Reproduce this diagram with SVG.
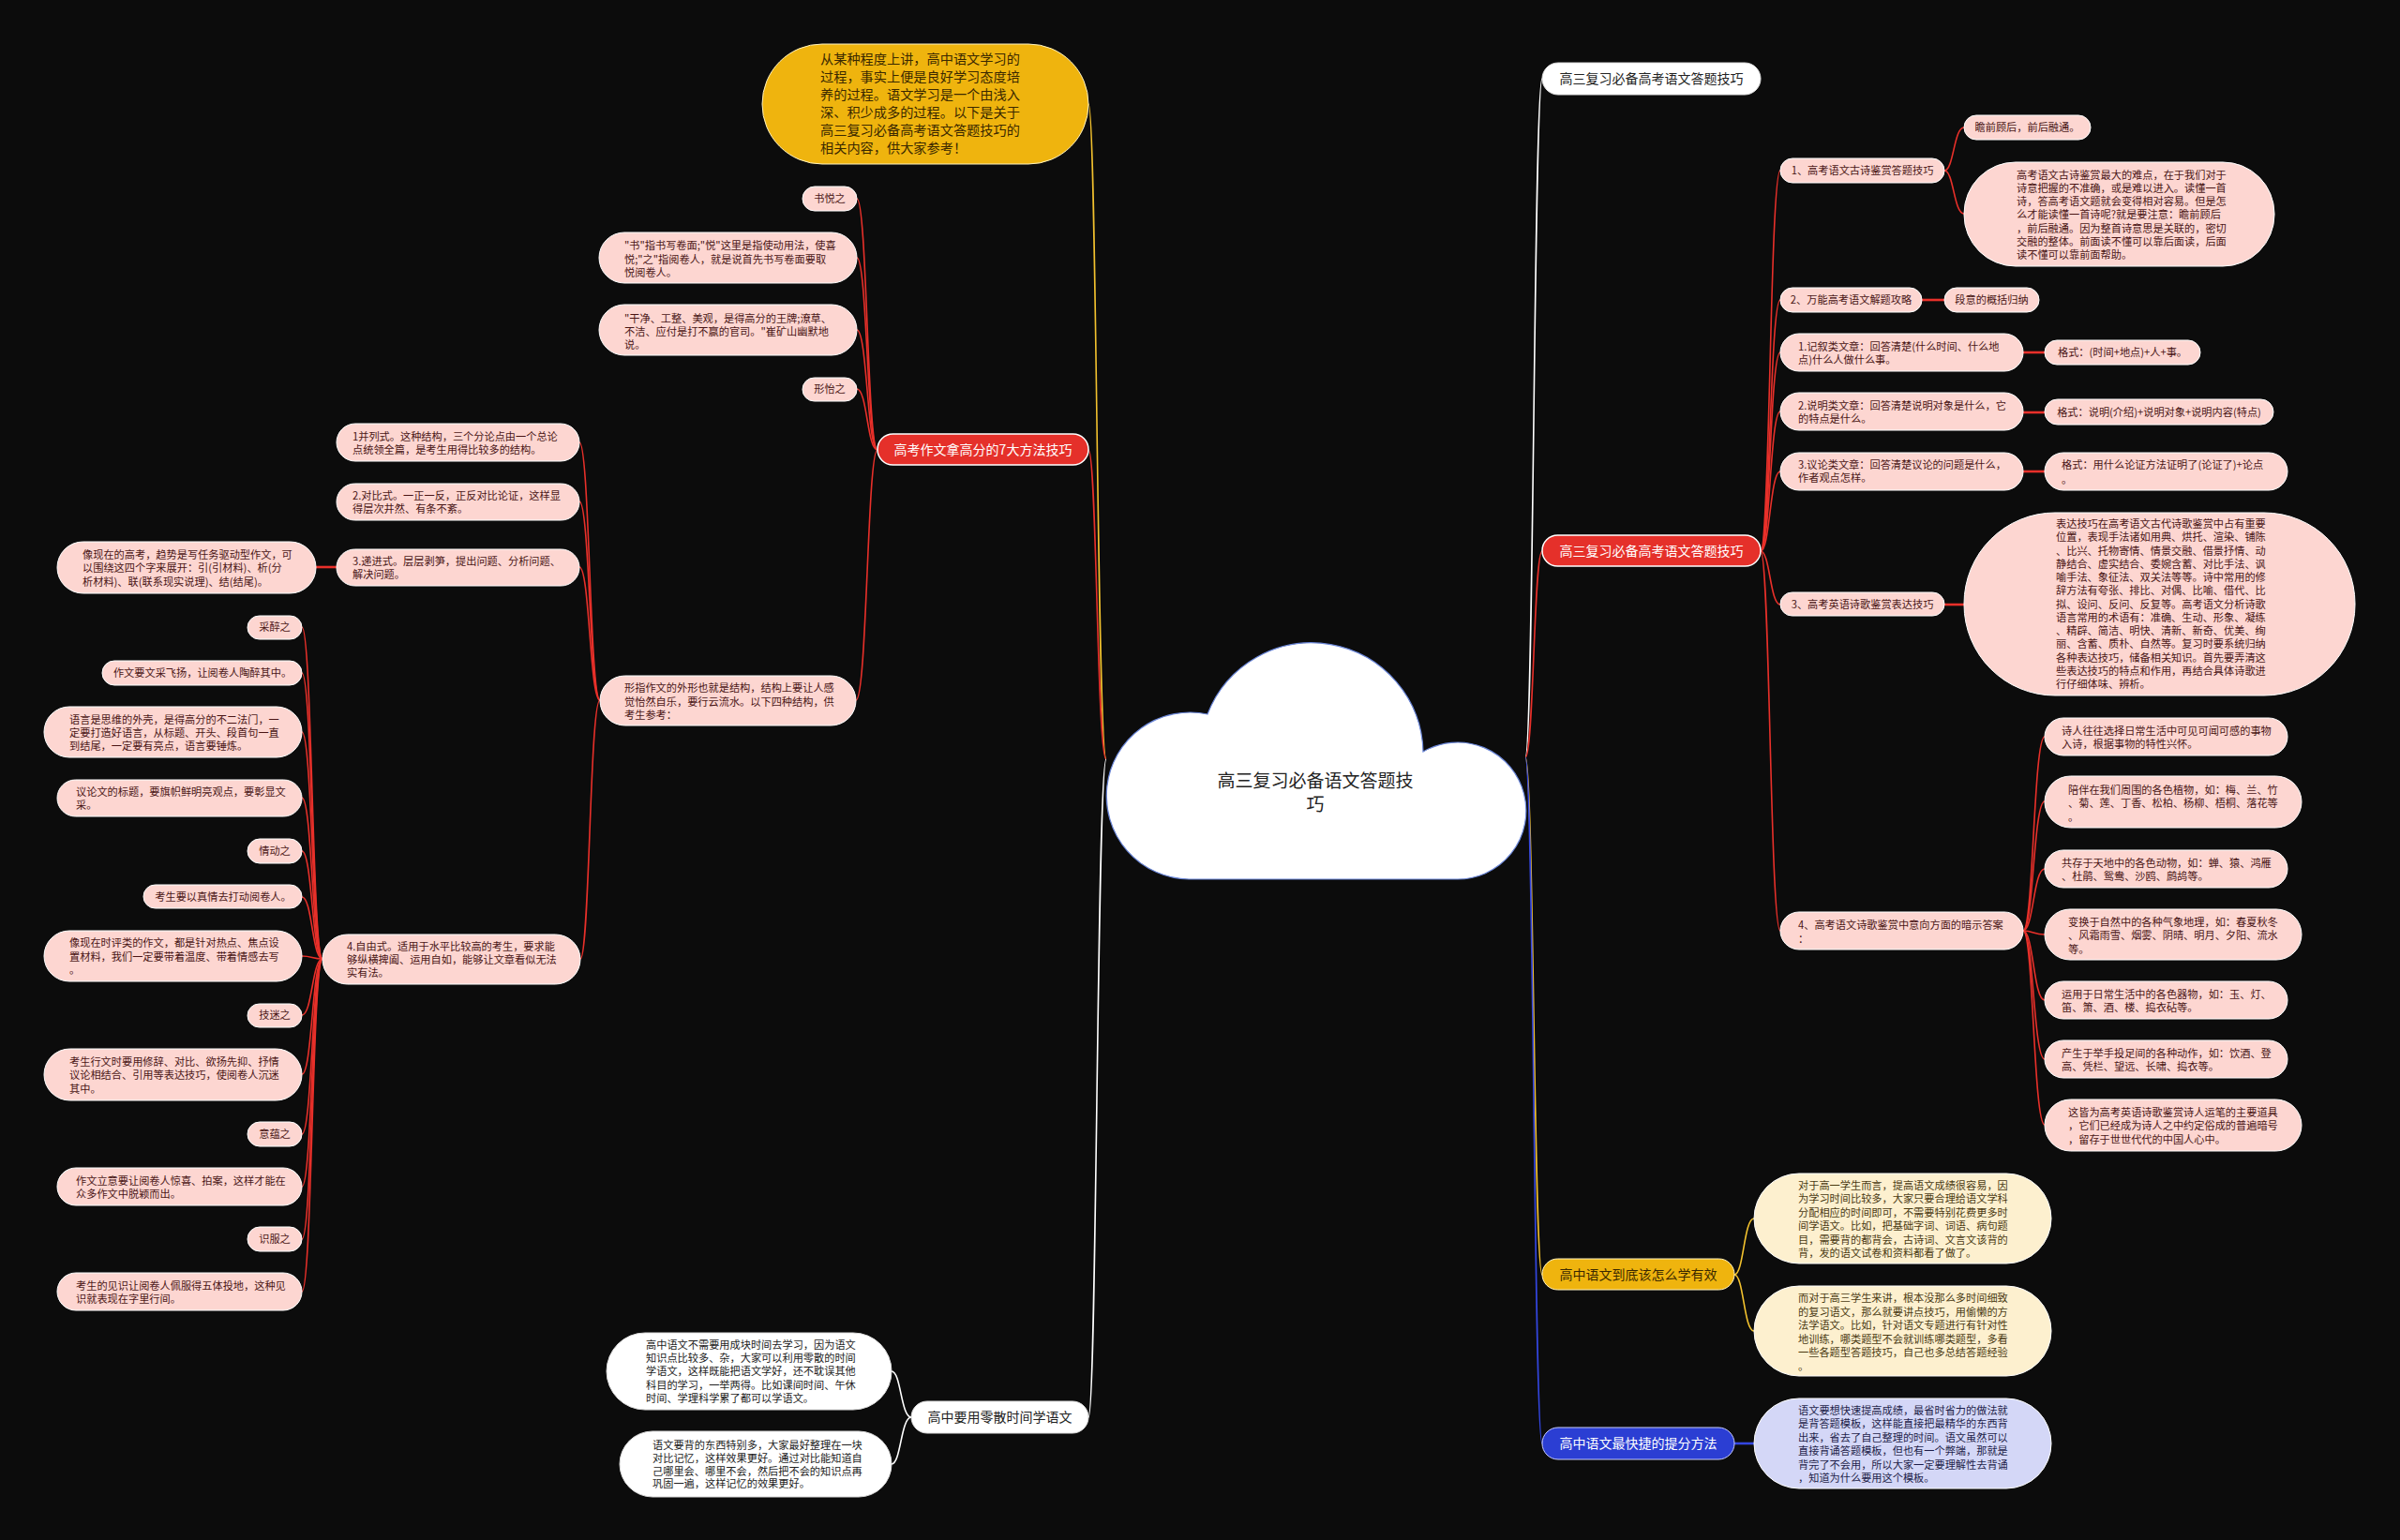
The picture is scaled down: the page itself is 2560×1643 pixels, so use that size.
<svg xmlns="http://www.w3.org/2000/svg" width="2560" height="1643" viewBox="0 0 2560 1643">
<defs><style>
text{font-family:"Noto Sans CJK SC","Microsoft YaHei","Liberation Sans",sans-serif}
.leaf{fill:#fdd6d1;stroke:#ffffff;stroke-width:1}
.lt{font-size:11.2px;fill:#4a1515}
.redn{fill:#e5302a;stroke:#ffffff;stroke-width:1.5}
.wt{font-size:14px;fill:#ffffff}
.whn{fill:#ffffff;stroke:#dddddd;stroke-width:1}
.dt{font-size:14px;fill:#222222}
.gold{fill:#efb40e;stroke:#fff3c0;stroke-width:1}
.gt{font-size:14px;fill:#3a2800}
.blue{fill:#2b3ed3;stroke:#c8ccff;stroke-width:1}
.cream{fill:#fdf0cf;stroke:#ffffff;stroke-width:1}
.ct{font-size:11.2px;fill:#4a3a12}
.lav{fill:#d4d7f7;stroke:#ffffff;stroke-width:1}
.bt{font-size:11.2px;fill:#1e1e4a}
.wl{fill:#ffffff;stroke:#dddddd;stroke-width:1}
.wlt{font-size:11.2px;fill:#222222}
.c{fill:none;stroke-width:1.6}
.cr{stroke:#e8302a}
.cy{stroke:#f2c12e}
.cw{stroke:#ffffff}
.cb{stroke:#3346e0}
.thick{stroke-width:2.6}
.mid{text-anchor:middle}
</style></defs>
<rect width="2560" height="1643" fill="#0c0c0c"/>
<g id="connectors">
<path class="c cy" stroke-width="2" d="M1180,810 C1170,810 1170,111 1161,111"/>
<path class="c cr" stroke-width="2" d="M1180,810 C1170,810 1170,480 1161,480"/>
<path class="c cw" stroke-width="2" d="M1180,810 C1170,810 1170,1512 1161,1512"/>
<path class="c cw" stroke-width="2" d="M1627,808 C1636,808 1636,84 1645,84"/>
<path class="c cr" stroke-width="2" d="M1627,808 C1636,808 1636,588 1645,588"/>
<path class="c cy" stroke-width="2" d="M1627,808 C1636,808 1636,1360 1645,1360"/>
<path class="c cb" stroke-width="2" d="M1627,808 C1636,808 1636,1540 1645,1540"/>
<path class="c cr" d="M936,480 C925,480 925,212 914,212"/>
<path class="c cr" d="M936,480 C925,480 925,275 914,275"/>
<path class="c cr" d="M936,480 C925,480 925,352 914,352"/>
<path class="c cr" d="M936,480 C925,480 925,415 914,415"/>
<path class="c cr" d="M936,480 C925,480 925,747 913,747"/>
<path class="c cr" d="M640,747 C629,747 629,472 618,472"/>
<path class="c cr" d="M640,747 C629,747 629,535 618,535"/>
<path class="c cr" d="M640,747 C629,747 629,605 618,605"/>
<path class="c cr" d="M640,747 C629,747 629,1023 619,1023"/>
<path class="c cr thick" d="M359,605 L337,605"/>
<path class="c cr" d="M344,1023 C333,1023 333,669 322,669"/>
<path class="c cr" d="M344,1023 C333,1023 333,718 322,718"/>
<path class="c cr" d="M344,1023 C333,1023 333,781 322,781"/>
<path class="c cr" d="M344,1023 C333,1023 333,851 322,851"/>
<path class="c cr" d="M344,1023 C333,1023 333,908 322,908"/>
<path class="c cr" d="M344,1023 C333,1023 333,957 322,957"/>
<path class="c cr" d="M344,1023 C333,1023 333,1020 322,1020"/>
<path class="c cr" d="M344,1023 C333,1023 333,1083 322,1083"/>
<path class="c cr" d="M344,1023 C333,1023 333,1146 322,1146"/>
<path class="c cr" d="M344,1023 C333,1023 333,1210 322,1210"/>
<path class="c cr" d="M344,1023 C333,1023 333,1266 322,1266"/>
<path class="c cr" d="M344,1023 C333,1023 333,1322 322,1322"/>
<path class="c cr" d="M344,1023 C333,1023 333,1378 322,1378"/>
<path class="c cw" d="M972,1512 C961,1512 961,1463 951,1463"/>
<path class="c cw" d="M972,1512 C961,1512 961,1562 951,1562"/>
<path class="c cr" d="M1878,588 C1888,588 1888,182 1899,182"/>
<path class="c cr" d="M1878,588 C1888,588 1888,320 1899,320"/>
<path class="c cr" d="M1878,588 C1888,588 1888,376 1899,376"/>
<path class="c cr" d="M1878,588 C1888,588 1888,439 1899,439"/>
<path class="c cr" d="M1878,588 C1888,588 1888,503 1899,503"/>
<path class="c cr" d="M1878,588 C1888,588 1888,645 1899,645"/>
<path class="c cr" d="M1878,588 C1888,588 1888,993 1899,993"/>
<path class="c cr" d="M2074,182 C2084,182 2084,136 2095,136"/>
<path class="c cr" d="M2074,182 C2084,182 2084,228 2095,228"/>
<path class="c cr thick" d="M2050,320 L2074,320"/>
<path class="c cr thick" d="M2158,376 L2181,376"/>
<path class="c cr thick" d="M2158,440 L2181,440"/>
<path class="c cr thick" d="M2158,503 L2181,503"/>
<path class="c cr thick" d="M2074,645 L2095,645"/>
<path class="c cr" d="M2158,993 C2169,993 2169,786 2181,786"/>
<path class="c cr" d="M2158,993 C2169,993 2169,855 2181,855"/>
<path class="c cr" d="M2158,993 C2169,993 2169,927 2181,927"/>
<path class="c cr" d="M2158,993 C2169,993 2169,997 2181,997"/>
<path class="c cr" d="M2158,993 C2169,993 2169,1067 2181,1067"/>
<path class="c cr" d="M2158,993 C2169,993 2169,1130 2181,1130"/>
<path class="c cr" d="M2158,993 C2169,993 2169,1200 2181,1200"/>
<path class="c cy" d="M1850,1360 C1860,1360 1860,1300 1871,1300"/>
<path class="c cy" d="M1850,1360 C1860,1360 1860,1420 1871,1420"/>
<path class="c cb thick" d="M1850,1540 L1871,1540"/>
</g>
<g id="root">
<path d="M1268,938 A89,89 0 1 1 1288,762 A119,119 0 0 1 1518,802 A73,73 0 1 1 1553,938 Z" fill="#ffffff" stroke="#6a86d8" stroke-width="1.2"/>
<text class="mid" font-size="19" fill="#222222"><tspan x="1403" y="840">高三复习必备语文答题技</tspan><tspan x="1403" y="865">巧</tspan></text>
</g>
<g id="intro">
<rect x="813" y="47" width="348" height="128" rx="64" class="gold"/>
<text font-size="14.2" fill="#3a2800"><tspan x="875" y="68">从某种程度上讲，高中语文学习的</tspan><tspan x="875" y="87">过程，事实上便是良好学习态度培</tspan><tspan x="875" y="106">养的过程。语文学习是一个由浅入</tspan><tspan x="875" y="125">深、积少成多的过程。以下是关于</tspan><tspan x="875" y="144">高三复习必备高考语文答题技巧的</tspan><tspan x="875" y="163">相关内容，供大家参考！</tspan></text>
</g>
<g id="n-zuowen">
<rect x="936" y="463" width="225" height="33" rx="16.5" class="redn"/>
<text class="wt mid" x="1048.5" y="485">高考作文拿高分的7大方法技巧</text>
</g>
<g id="n-shuyue"><rect x="856" y="199" width="58" height="26" rx="13" class="leaf"/><text class="lt mid" x="885" y="216">书悦之</text></g>
<g id="n-shuyue-d"><rect x="639" y="248" width="275" height="54" rx="27" class="leaf"/><text class="lt"><tspan x="666" y="266">"书"指书写卷面;"悦"这里是指使动用法，使喜</tspan><tspan x="666" y="281">悦;"之"指阅卷人，就是说首先书写卷面要取</tspan><tspan x="666" y="295">悦阅卷人。</tspan></text></g>
<g id="n-ganjing"><rect x="639" y="325" width="275" height="54" rx="27" class="leaf"/><text class="lt"><tspan x="666" y="344">"干净、工整、美观，是得高分的王牌;潦草、</tspan><tspan x="666" y="358">不洁、应付是打不赢的官司。"崔矿山幽默地</tspan><tspan x="666" y="372">说。</tspan></text></g>
<g id="n-xingyi"><rect x="856" y="403" width="58" height="25" rx="12.5" class="leaf"/><text class="lt mid" x="885" y="419">形怡之</text></g>
<g id="n-xingzhi"><rect x="640" y="721" width="273" height="53" rx="26.5" class="leaf"/><text class="lt"><tspan x="666" y="738">形指作文的外形也就是结构，结构上要让人感</tspan><tspan x="666" y="753">觉怡然自乐，要行云流水。以下四种结构，供</tspan><tspan x="666" y="767">考生参考：</tspan></text></g>
<g id="n-s1"><rect x="359" y="452" width="259" height="40" rx="20" class="leaf"/><text class="lt"><tspan x="376" y="470">1并列式。这种结构，三个分论点由一个总论</tspan><tspan x="376" y="484">点统领全篇，是考生用得比较多的结构。</tspan></text></g>
<g id="n-s2"><rect x="359" y="516" width="259" height="39" rx="19.5" class="leaf"/><text class="lt"><tspan x="376" y="533">2.对比式。一正一反，正反对比论证，这样显</tspan><tspan x="376" y="547">得层次井然、有条不紊。</tspan></text></g>
<g id="n-s3"><rect x="359" y="586" width="259" height="39" rx="19.5" class="leaf"/><text class="lt"><tspan x="376" y="603">3.递进式。层层剥笋，提出问题、分析问题、</tspan><tspan x="376" y="617">解决问题。</tspan></text></g>
<g id="n-s3d"><rect x="61" y="578" width="276" height="55" rx="27.5" class="leaf"/><text class="lt"><tspan x="88" y="596">像现在的高考，趋势是写任务驱动型作文，可</tspan><tspan x="88" y="610">以围绕这四个字来展开：引(引材料)、析(分</tspan><tspan x="88" y="625">析材料)、联(联系现实说理)、结(结尾)。</tspan></text></g>
<g id="n-s4"><rect x="344" y="997" width="275" height="53" rx="26.5" class="leaf"/><text class="lt"><tspan x="370" y="1014">4.自由式。适用于水平比较高的考生，要求能</tspan><tspan x="370" y="1028">够纵横捭阖、运用自如，能够让文章看似无法</tspan><tspan x="370" y="1042">实有法。</tspan></text></g>
<g id="n-caizui"><rect x="264" y="657" width="58" height="25" rx="12.5" class="leaf"/><text class="lt mid" x="293" y="673">采醉之</text></g>
<g id="n-caizui-d"><rect x="109" y="705" width="213" height="26" rx="13" class="leaf"/><text class="lt mid" x="216" y="722">作文要文采飞扬，让阅卷人陶醉其中。</text></g>
<g id="n-yuyan"><rect x="47" y="754" width="275" height="54" rx="27" class="leaf"/><text class="lt"><tspan x="74" y="772">语言是思维的外壳，是得高分的不二法门，一</tspan><tspan x="74" y="786">定要打造好语言，从标题、开头、段首句一直</tspan><tspan x="74" y="800">到结尾，一定要有亮点，语言要锤炼。</tspan></text></g>
<g id="n-biaoti"><rect x="61" y="832" width="261" height="39" rx="19.5" class="leaf"/><text class="lt"><tspan x="81" y="849">议论文的标题，要旗帜鲜明亮观点，要彰显文</tspan><tspan x="81" y="863">采。</tspan></text></g>
<g id="n-qingdong"><rect x="264" y="895" width="58" height="26" rx="13" class="leaf"/><text class="lt mid" x="293" y="912">情动之</text></g>
<g id="n-qingdong-d"><rect x="153" y="944" width="169" height="25" rx="12.5" class="leaf"/><text class="lt mid" x="238" y="961">考生要以真情去打动阅卷人。</text></g>
<g id="n-shiping"><rect x="47" y="993" width="275" height="54" rx="27" class="leaf"/><text class="lt"><tspan x="74" y="1010">像现在时评类的作文，都是针对热点、焦点设</tspan><tspan x="74" y="1025">置材料，我们一定要带着温度、带着情感去写</tspan><tspan x="74" y="1039">。</tspan></text></g>
<g id="n-jimi"><rect x="264" y="1071" width="58" height="25" rx="12.5" class="leaf"/><text class="lt mid" x="293" y="1087">技迷之</text></g>
<g id="n-jimi-d"><rect x="47" y="1119" width="275" height="55" rx="27.5" class="leaf"/><text class="lt"><tspan x="74" y="1137">考生行文时要用修辞、对比、欲扬先抑、抒情</tspan><tspan x="74" y="1151">议论相结合、引用等表达技巧，使阅卷人沉迷</tspan><tspan x="74" y="1166">其中。</tspan></text></g>
<g id="n-yiyun"><rect x="264" y="1197" width="58" height="26" rx="13" class="leaf"/><text class="lt mid" x="293" y="1214">意蕴之</text></g>
<g id="n-yiyun-d"><rect x="61" y="1246" width="261" height="40" rx="20" class="leaf"/><text class="lt"><tspan x="81" y="1264">作文立意要让阅卷人惊喜、拍案，这样才能在</tspan><tspan x="81" y="1278">众多作文中脱颖而出。</tspan></text></g>
<g id="n-shifu"><rect x="264" y="1309" width="58" height="26" rx="13" class="leaf"/><text class="lt mid" x="293" y="1326">识服之</text></g>
<g id="n-shifu-d"><rect x="61" y="1358" width="261" height="40" rx="20" class="leaf"/><text class="lt"><tspan x="81" y="1376">考生的见识让阅卷人佩服得五体投地，这种见</tspan><tspan x="81" y="1390">识就表现在字里行间。</tspan></text></g>
<g id="n-lingsan"><rect x="972" y="1495" width="189" height="34" rx="17" class="whn"/><text class="dt mid" x="1066.5" y="1517">高中要用零散时间学语文</text></g>
<g id="n-lingsan-1"><rect x="647" y="1422" width="304" height="82" rx="41" class="wl"/><text class="wlt"><tspan x="689" y="1439">高中语文不需要用成块时间去学习，因为语文</tspan><tspan x="689" y="1453">知识点比较多、杂，大家可以利用零散的时间</tspan><tspan x="689" y="1467">学语文，这样既能把语文学好，还不耽误其他</tspan><tspan x="689" y="1482">科目的学习，一举两得。比如课间时间、午休</tspan><tspan x="689" y="1496">时间、学理科学累了都可以学语文。</tspan></text></g>
<g id="n-lingsan-2"><rect x="661" y="1527" width="290" height="70" rx="35" class="wl"/><text class="wlt"><tspan x="696" y="1546">语文要背的东西特别多，大家最好整理在一块</tspan><tspan x="696" y="1560">对比记忆，这样效果更好。通过对比能知道自</tspan><tspan x="696" y="1574">己哪里会、哪里不会，然后把不会的知识点再</tspan><tspan x="696" y="1587">巩固一遍，这样记忆的效果更好。</tspan></text></g>
<g id="n-top-right"><rect x="1645" y="67" width="233" height="34" rx="17" class="whn"/><text class="dt mid" x="1761.5" y="89">高三复习必备高考语文答题技巧</text></g>
<g id="n-dati"><rect x="1645" y="571" width="233" height="33" rx="16.5" class="redn"/><text class="wt mid" x="1761.5" y="593">高三复习必备高考语文答题技巧</text></g>
<g id="n-a"><rect x="1899" y="169" width="175" height="26" rx="13" class="leaf"/><text class="lt mid" x="1986.5" y="186">1、高考语文古诗鉴赏答题技巧</text></g>
<g id="n-a1"><rect x="2095" y="123" width="135" height="26" rx="13" class="leaf"/><text class="lt mid" x="2162.5" y="140">瞻前顾后，前后融通。</text></g>
<g id="n-a2"><rect x="2095" y="173" width="331" height="111" rx="55" class="leaf"/><text class="lt"><tspan x="2151" y="191">高考语文古诗鉴赏最大的难点，在于我们对于</tspan><tspan x="2151" y="205">诗意把握的不准确，或是难以进入。读懂一首</tspan><tspan x="2151" y="219">诗，答高考语文题就会变得相对容易。但是怎</tspan><tspan x="2151" y="233">么才能读懂一首诗呢?就是要注意：瞻前顾后</tspan><tspan x="2151" y="248">，前后融通。因为整首诗意思是关联的，密切</tspan><tspan x="2151" y="262">交融的整体。前面读不懂可以靠后面读，后面</tspan><tspan x="2151" y="276">读不懂可以靠前面帮助。</tspan></text></g>
<g id="n-b"><rect x="1899" y="307" width="151" height="26" rx="13" class="leaf"/><text class="lt mid" x="1974.5" y="324">2、万能高考语文解题攻略</text></g>
<g id="n-b1"><rect x="2074" y="307" width="101" height="26" rx="13" class="leaf"/><text class="lt mid" x="2124.5" y="324">段意的概括归纳</text></g>
<g id="n-c"><rect x="1899" y="356" width="259" height="40" rx="20" class="leaf"/><text class="lt"><tspan x="1918" y="374">1.记叙类文章：回答清楚(什么时间、什么地</tspan><tspan x="1918" y="388">点)什么人做什么事。</tspan></text></g>
<g id="n-c1"><rect x="2181" y="363" width="166" height="26" rx="13" class="leaf"/><text class="lt mid" x="2264" y="380">格式：(时间+地点)+人+事。</text></g>
<g id="n-d"><rect x="1899" y="419" width="259" height="40" rx="20" class="leaf"/><text class="lt"><tspan x="1918" y="437">2.说明类文章：回答清楚说明对象是什么，它</tspan><tspan x="1918" y="451">的特点是什么。</tspan></text></g>
<g id="n-d1"><rect x="2181" y="426" width="244" height="27" rx="13.5" class="leaf"/><text class="lt mid" x="2303" y="444">格式：说明(介绍)+说明对象+说明内容(特点)</text></g>
<g id="n-e"><rect x="1899" y="483" width="259" height="40" rx="20" class="leaf"/><text class="lt"><tspan x="1918" y="500">3.议论类文章：回答清楚议论的问题是什么，</tspan><tspan x="1918" y="514">作者观点怎样。</tspan></text></g>
<g id="n-e1"><rect x="2181" y="483" width="259" height="40" rx="20" class="leaf"/><text class="lt"><tspan x="2199" y="500">格式：用什么论证方法证明了(论证了)+论点</tspan><tspan x="2199" y="516">。</tspan></text></g>
<g id="n-f"><rect x="1899" y="632" width="175" height="25" rx="12.5" class="leaf"/><text class="lt mid" x="1986.5" y="649">3、高考英语诗歌鉴赏表达技巧</text></g>
<g id="n-f1"><rect x="2095" y="547" width="417" height="195" rx="97" class="leaf"/><text class="lt"><tspan x="2193" y="563">表达技巧在高考语文古代诗歌鉴赏中占有重要</tspan><tspan x="2193" y="577.3">位置，表现手法诸如用典、烘托、渲染、铺陈</tspan><tspan x="2193" y="591.5">、比兴、托物寄情、情景交融、借景抒情、动</tspan><tspan x="2193" y="605.8">静结合、虚实结合、委婉含蓄、对比手法、讽</tspan><tspan x="2193" y="620">喻手法、象征法、双关法等等。诗中常用的修</tspan><tspan x="2193" y="634.3">辞方法有夸张、排比、对偶、比喻、借代、比</tspan><tspan x="2193" y="648.5">拟、设问、反问、反复等。高考语文分析诗歌</tspan><tspan x="2193" y="662.8">语言常用的术语有：准确、生动、形象、凝练</tspan><tspan x="2193" y="677">、精辟、简洁、明快、清新、新奇、优美、绚</tspan><tspan x="2193" y="691.3">丽、含蓄、质朴、自然等。复习时要系统归纳</tspan><tspan x="2193" y="705.5">各种表达技巧，储备相关知识。首先要弄清这</tspan><tspan x="2193" y="719.8">些表达技巧的特点和作用，再结合具体诗歌进</tspan><tspan x="2193" y="734">行仔细体味、辨析。</tspan></text></g>
<g id="n-g"><rect x="1899" y="973" width="259" height="40" rx="20" class="leaf"/><text class="lt"><tspan x="1918" y="991">4、高考语文诗歌鉴赏中意向方面的暗示答案</tspan><tspan x="1918" y="1006">：</tspan></text></g>
<g id="n-g1"><rect x="2181" y="766" width="259" height="40" rx="20" class="leaf"/><text class="lt"><tspan x="2199" y="784">诗人往往选择日常生活中可见可闻可感的事物</tspan><tspan x="2199" y="798">入诗，根据事物的特性兴怀。</tspan></text></g>
<g id="n-g2"><rect x="2181" y="828" width="274" height="55" rx="27.5" class="leaf"/><text class="lt"><tspan x="2206" y="847">陪伴在我们周围的各色植物，如：梅、兰、竹</tspan><tspan x="2206" y="861">、菊、莲、丁香、松柏、杨柳、梧桐、落花等</tspan><tspan x="2206" y="876">。</tspan></text></g>
<g id="n-g3"><rect x="2181" y="907" width="259" height="40" rx="20" class="leaf"/><text class="lt"><tspan x="2199" y="925">共存于天地中的各色动物，如：蝉、猿、鸿雁</tspan><tspan x="2199" y="939">、杜鹃、鸳鸯、沙鸥、鹧鸪等。</tspan></text></g>
<g id="n-g4"><rect x="2181" y="970" width="274" height="54" rx="27" class="leaf"/><text class="lt"><tspan x="2206" y="988">变换于自然中的各种气象地理，如：春夏秋冬</tspan><tspan x="2206" y="1002">、风霜雨雪、烟雾、阴晴、明月、夕阳、流水</tspan><tspan x="2206" y="1017">等。</tspan></text></g>
<g id="n-g5"><rect x="2181" y="1047" width="259" height="40" rx="20" class="leaf"/><text class="lt"><tspan x="2199" y="1065">运用于日常生活中的各色器物，如：玉、灯、</tspan><tspan x="2199" y="1079">笛、箫、酒、楼、捣衣砧等。</tspan></text></g>
<g id="n-g6"><rect x="2181" y="1110" width="259" height="40" rx="20" class="leaf"/><text class="lt"><tspan x="2199" y="1128">产生于举手投足间的各种动作，如：饮酒、登</tspan><tspan x="2199" y="1142">高、凭栏、望远、长啸、捣衣等。</tspan></text></g>
<g id="n-g7"><rect x="2181" y="1173" width="274" height="55" rx="27.5" class="leaf"/><text class="lt"><tspan x="2206" y="1191">这皆为高考英语诗歌鉴赏诗人运笔的主要道具</tspan><tspan x="2206" y="1205">，它们已经成为诗人之中约定俗成的普遍暗号</tspan><tspan x="2206" y="1220">，留存于世世代代的中国人心中。</tspan></text></g>
<g id="n-youxiao"><rect x="1645" y="1343" width="205" height="33" rx="16.5" class="gold"/><text class="gt mid" x="1747.5" y="1365">高中语文到底该怎么学有效</text></g>
<g id="n-youxiao-1"><rect x="1871" y="1252" width="317" height="96" rx="48" class="cream"/><text class="ct"><tspan x="1918" y="1269">对于高一学生而言，提高语文成绩很容易，因</tspan><tspan x="1918" y="1283.4">为学习时间比较多，大家只要合理给语文学科</tspan><tspan x="1918" y="1297.8">分配相应的时间即可，不需要特别花费更多时</tspan><tspan x="1918" y="1312.2">间学语文。比如，把基础字词、词语、病句题</tspan><tspan x="1918" y="1326.6">目，需要背的都背会，古诗词、文言文该背的</tspan><tspan x="1918" y="1341">背，发的语文试卷和资料都看了做了。</tspan></text></g>
<g id="n-youxiao-2"><rect x="1871" y="1372" width="317" height="96" rx="48" class="cream"/><text class="ct"><tspan x="1918" y="1389">而对于高三学生来讲，根本没那么多时间细致</tspan><tspan x="1918" y="1403.5">的复习语文，那么就要讲点技巧，用偷懒的方</tspan><tspan x="1918" y="1418">法学语文。比如，针对语文专题进行有针对性</tspan><tspan x="1918" y="1432.5">地训练，哪类题型不会就训练哪类题型，多看</tspan><tspan x="1918" y="1447">一些各题型答题技巧，自己也多总结答题经验</tspan><tspan x="1918" y="1461.5">。</tspan></text></g>
<g id="n-tifen"><rect x="1645" y="1523" width="205" height="34" rx="17" class="blue"/><text class="wt mid" x="1747.5" y="1545">高中语文最快捷的提分方法</text></g>
<g id="n-tifen-1"><rect x="1871" y="1492" width="317" height="96" rx="48" class="lav"/><text class="bt"><tspan x="1918" y="1509">语文要想快速提高成绩，最省时省力的做法就</tspan><tspan x="1918" y="1523.4">是背答题模板，这样能直接把最精华的东西背</tspan><tspan x="1918" y="1537.8">出来，省去了自己整理的时间。语文虽然可以</tspan><tspan x="1918" y="1552.2">直接背诵答题模板，但也有一个弊端，那就是</tspan><tspan x="1918" y="1566.6">背完了不会用，所以大家一定要理解性去背诵</tspan><tspan x="1918" y="1581">，知道为什么要用这个模板。</tspan></text></g>
</svg>
